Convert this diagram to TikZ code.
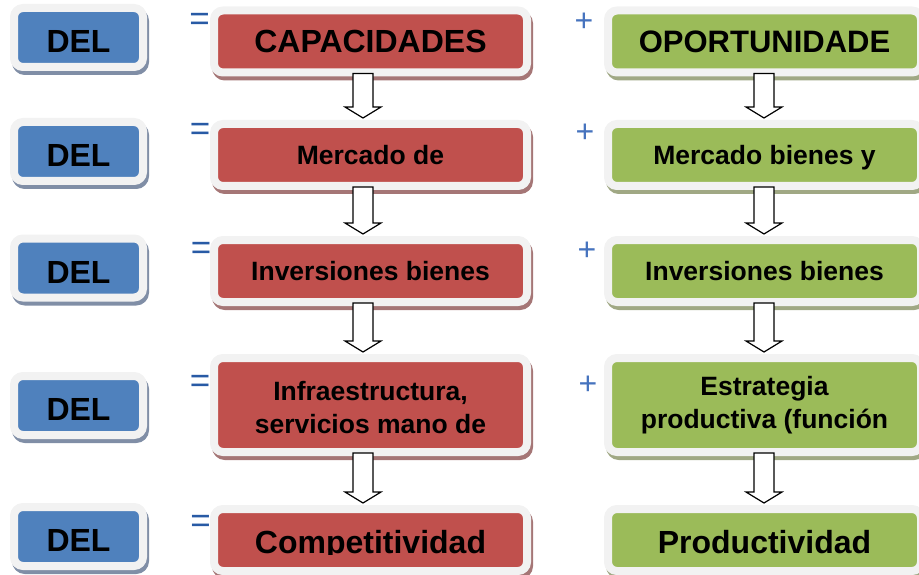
\documentclass[tikz,border=0pt]{standalone}
\usepackage{fontspec}
\setmainfont{Liberation Sans}
\usepackage{xcolor}
\usetikzlibrary{calc,shadows}

\definecolor{delblue}{RGB}{79,129,189}
\definecolor{capred}{RGB}{192,80,77}
\definecolor{opgreen}{RGB}{155,187,89}
\definecolor{framegray}{RGB}{242,242,242}
\definecolor{delshade}{RGB}{128,142,166}
\definecolor{capshade}{RGB}{165,118,118}
\definecolor{opshade}{RGB}{160,168,132}
\definecolor{eqblue}{RGB}{40,90,165}
\definecolor{plblue}{RGB}{70,115,190}

\newcommand{\bigfont}{\fontsize{32}{36}\selectfont\bfseries}
\newcommand{\opfont}{\fontsize{31}{36}\selectfont\bfseries}
\newcommand{\midfont}{\fontsize{26.5}{33}\selectfont\bfseries}
\newcommand{\eqfont}{\fontsize{35}{36}\selectfont}
\newcommand{\plfont}{\fontsize{32}{34}\selectfont}

\tikzset{
  panel/.style={rounded corners=9pt, line width=8pt, draw=framegray,
    text=black, align=center, inner sep=0pt},
  boxshadow/.style={general shadow={shadow xshift=2pt, shadow yshift=-4pt,
    draw=#1, fill=#1, line width=8pt}},
  delbox/.style={panel, boxshadow=delshade, fill=delblue,
    minimum width=129pt, minimum height=59pt, font=\bigfont,
    text height=30pt, text depth=0pt},
  capbox/.style={panel, boxshadow=capshade, fill=capred,
    minimum width=313pt, minimum height=62pt},
  opbox/.style={panel, boxshadow=opshade, fill=opgreen,
    minimum width=313pt, minimum height=62pt},
  eqsign/.style={text=eqblue, font=\eqfont, inner sep=0pt},
  plsign/.style={text=plblue, font=\plfont, inner sep=0pt},
  hollowarrow/.style={draw=black, line width=1.2pt, fill=white,
    to path={let \p1=(\tikztostart), \p2=(\tikztotarget) in
      (\x1-10pt,\y1+3pt) -- (\x1-10pt,\y2+13pt) -- (\x1-18pt,\y2+13pt)
      -- (\x1,\y2+2pt) -- (\x1+18pt,\y2+13pt) -- (\x1+10pt,\y2+13pt)
      -- (\x1+10pt,\y1+3pt) -- cycle}}
}

\begin{document}
\begin{tikzpicture}[x=1pt,y=-1pt]
    \path[use as bounding box, clip] (0,0) rectangle (919,575);

    % DEL column
    \node[delbox] (d1) at (78.5,37.5) {DEL};
    \node[delbox] (d2) at (78.5,151.5) {DEL};
    \node[delbox] (d3) at (78.5,268) {DEL};
    \node[delbox] (d4) at (78.5,405.5) {DEL};
    \node[delbox] (d5) at (78.5,536.5) {DEL};

    % capacidades column
    \node[capbox, font=\bigfont, text depth=0pt] (c1) at (370.5,41.5) {CAPACIDADES};
    \node[capbox, font=\midfont, text depth=0pt] (c2) at (370.5,155) {Mercado de};
    \node[capbox, font=\midfont, text depth=0pt] (c3) at (370.5,271) {Inversiones bienes};
    \node[capbox, minimum height=94pt] (c4) at (370.5,405) {};
    \node[capbox] (c5) at (370.5,540) {};

    % oportunidad column
    \node[opbox, font=\opfont, text depth=0pt] (o1) at (764.5,41.5) {OPORTUNIDADE};
    \node[opbox, font=\midfont, text depth=0pt] (o2) at (764.5,155) {Mercado bienes y};
    \node[opbox, font=\midfont, text depth=0pt] (o3) at (764.5,271) {Inversiones bienes};
    \node[opbox, minimum height=94pt] (o4) at (764.5,405) {};
    \node[opbox] (o5) at (764.5,540) {};

    % two-line texts sit a little low
    \node[font=\midfont, align=center] (c4txt) at ($(c4.center)+(0,3)$) {Infraestructura,\\servicios mano de};
    \node[font=\midfont, align=center] (o4txt) at (o4.center) {Estrategia\\productiva (función};

    % last row text is cut at the bottom
    \begin{scope}
        \clip (200,500) rectangle (919,554);
        \node[font=\bigfont, text depth=0pt] (c5txt) at ($(c5.center)+(0,2)$) {Competitividad};
        \node[font=\bigfont, text depth=0pt] (o5txt) at ($(o5.center)+(0,2)$) {Productividad};
    \end{scope}

    % signs
    \node[eqsign] (e1) at (199.5,22) {=};
    \node[eqsign] (e2) at (200,131.5) {=};
    \node[eqsign] (e3) at (201,250.5) {=};
    \node[eqsign] (e4) at (200,384) {=};
    \node[eqsign] (e5) at (200.5,524) {=};
    \node[plsign] (p1) at (584,22) {+};
    \node[plsign] (p2) at (585,133) {+};
    \node[plsign] (p3) at (587,251) {+};
    \node[plsign] (p4) at (588,385) {+};

    % hollow arrows
    \coordinate (capx) at (363,0);
    \coordinate (opx) at (764,0);
    \foreach \a/\b in {c1/c2,c2/c3,c3/c4,c4/c5}
        \draw[hollowarrow] (\a.south -| capx) to (\b.north -| capx);
    \foreach \a/\b in {o1/o2,o2/o3,o3/o4,o4/o5}
        \draw[hollowarrow] (\a.south -| opx) to (\b.north -| opx);
\end{tikzpicture}
\end{document}
